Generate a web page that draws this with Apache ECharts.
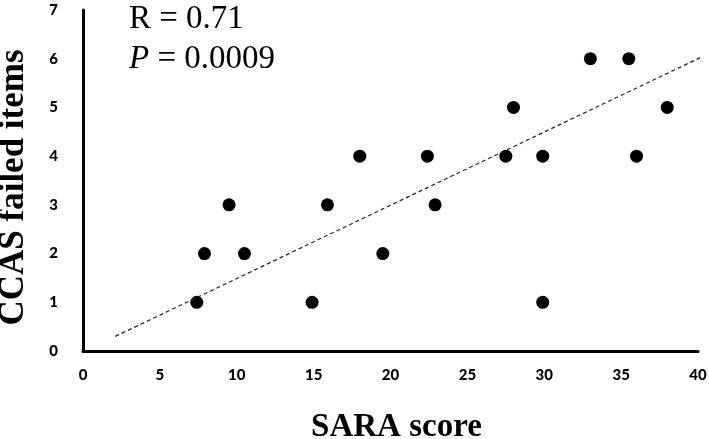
<!DOCTYPE html>
<html>
<head>
<meta charset="utf-8">
<script src="https://cdn.jsdelivr.net/npm/echarts@6/dist/echarts.min.js"></script>
<style>
  html, body { margin: 0; padding: 0; background: #fff; }
  #chart { width: 709px; height: 439px; }
</style>
</head>
<body>
<div id="chart"></div>
<script>
// SARA score vs CCAS failed items
var saraScore = [7.4, 7.9, 9.5, 10.5, 14.9, 15.9, 18.0, 19.5, 22.4, 22.9, 27.5, 28.0, 29.9, 29.9, 33.0, 35.5, 36.0, 38.0];
var ccasFailed = [1, 2, 3, 2, 1, 3, 4, 2, 4, 3, 4, 5, 4, 1, 6, 6, 4, 5];
var trendX = [2.1, 40.2];
var trendY = [0.3, 6.03];

var points = saraScore.map(function (x, i) { return [x, ccasFailed[i]]; });
var trend = trendX.map(function (x, i) { return [x, trendY[i]]; });

var tickFont = { fontFamily: 'Lato', fontWeight: 900, fontSize: 15, color: '#000' };

var chart = echarts.init(document.getElementById('chart'));
chart.setOption({
  animation: false,
  backgroundColor: '#fff',
  grid: { left: 83, right: 11, top: 10, bottom: 88, containLabel: false, outerBoundsMode: 'none' },
  xAxis: {
    type: 'value', min: 0, max: 40, interval: 5,
    name: 'SARA score', nameLocation: 'middle', nameGap: 60,
    nameTextStyle: { fontFamily: 'Liberation Serif', fontWeight: 'bold', fontSize: 33, color: '#000', padding: [0, 0, 0, 12] },
    axisLine: { lineStyle: { color: '#000', width: 3 } },
    axisTick: { show: false },
    splitLine: { show: false },
    axisLabel: Object.assign({ margin: 17 }, tickFont)
  },
  yAxis: {
    type: 'value', min: 0, max: 7, interval: 1,
    name: 'CCAS failed items', nameLocation: 'middle', nameGap: 52,
    nameTextStyle: { fontFamily: 'Liberation Serif', fontWeight: 'bold', fontSize: 35, color: '#000', padding: [0, 14, 0, 0] },
    axisLine: { show: true, lineStyle: { color: '#000', width: 3 } },
    axisTick: { show: false },
    splitLine: { show: false },
    axisLabel: Object.assign({ margin: 25 }, tickFont)
  },
  graphic: [
    { type: 'text', left: 129, top: 3, style: { text: 'R = 0.71', fontFamily: 'Liberation Serif', fontSize: 33, fill: '#000' } },
    { type: 'text', left: 129, top: 43, style: { text: '{i|P} = 0.0009', fontFamily: 'Liberation Serif', fontSize: 33, fill: '#000',
      rich: { i: { fontStyle: 'italic', fontFamily: 'Liberation Serif', fontSize: 33, fill: '#000' } } } }
  ],
  series: [
    {
      type: 'line', data: trend, symbol: 'none', silent: true,
      lineStyle: { color: '#222', width: 1.2, type: [4, 3] }
    },
    {
      type: 'scatter', data: points, symbol: 'circle', symbolSize: 13,
      itemStyle: { color: '#000', opacity: 1 }
    }
  ]
});
</script>
</body>
</html>
